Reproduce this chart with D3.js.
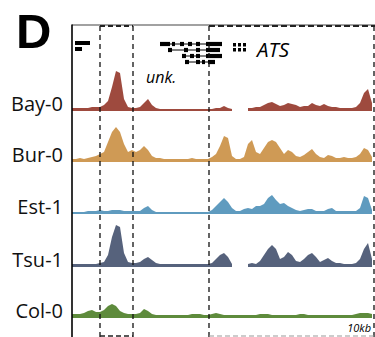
<!DOCTYPE html>
<html><head><meta charset="utf-8">
<script src="https://cdn.jsdelivr.net/npm/d3@7"></script>
<style>body{margin:0;background:#fff}svg{display:block}</style>
</head><body>
<script>
// genomic positions (kb, 0..~30.3 across the panel), sampled every 0.4 kb
const positions = d3.range(0, 76).map(i => i * 0.4);
const trackNames = ["Bay-0", "Bur-0", "Est-1", "Tsu-1", "Col-0"];
const trackColors = ["#9e4a3e", "#cf9a55", "#5f9bbf", "#56627c", "#5e8b3c"];
const bay0 = [3,3,3,3,3,4,4,4,6,10,24,40,38,12,4,3,3,4,8,12,6,3,2,2,2,2,2,2,2,2,2,2,2,2,2,2,3,3,5,3,2,null,null,null,3,3,4,4,6,8,9,7,5,6,8,7,6,4,5,5,8,6,5,7,5,4,4,3,3,3,3,4,8,18,22,8];
const bur0 = [3,3,4,3,4,5,6,8,10,20,30,35,30,18,10,12,10,12,16,12,6,4,4,3,3,3,3,3,3,3,4,3,3,3,3,5,8,16,26,24,6,3,3,5,18,22,10,8,14,20,22,20,14,8,12,10,6,5,7,10,13,8,5,4,7,6,4,4,5,4,4,5,8,14,12,5];
const est1 = [2,2,2,2,3,3,3,4,3,3,4,4,4,3,3,3,3,3,6,8,4,2,2,2,2,2,2,2,2,2,2,2,2,2,2,4,8,12,16,12,6,3,3,5,6,5,8,8,10,16,19,14,10,11,8,6,4,3,4,5,5,3,3,3,5,6,3,3,3,3,3,3,6,18,16,4];
const tsu1 = [3,3,3,3,3,3,3,4,5,12,30,42,40,14,5,4,4,5,8,10,7,4,3,3,3,3,3,3,3,3,3,3,3,3,3,4,8,12,14,10,3,null,null,null,3,4,3,6,12,18,22,18,8,10,15,12,6,5,8,12,14,10,5,7,9,6,4,4,3,3,3,4,8,18,24,8];
const col0 = [4,4,4,5,7,8,6,6,8,12,14,12,7,5,4,4,4,5,9,7,4,3,3,3,3,3,3,3,3,3,4,4,4,3,3,4,5,4,3,3,3,3,3,3,3,3,3,4,4,4,3,3,3,3,3,3,3,4,4,3,3,3,3,3,3,3,3,3,3,3,3,4,5,5,5,4];
const trackValues = [bay0, bur0, est1, tsu1, col0];
const trackBaselines = [111, 162, 214, 267, 318];
// highlighted regions (kb)
const regions = [[2.8, 6.1], [13.7, 30.2]];
// gene models: [start, end] exons in kb per transcript row
const leftGene = [[[0.3, 1.8]], [[0.3, 1.0]]];
const atsTranscripts = [
  [[8.8, 9.8], [10.0, 10.3], [10.8, 11.2], [11.6, 12.0], [12.4, 12.8], [13.4, 15.0]],
  [[9.6, 10.0], [11.2, 11.6], [12.4, 12.8], [13.4, 14.8]],
  [[11.0, 11.4], [11.8, 12.2], [12.4, 12.8], [13.4, 15.0]],
  [[11.3, 11.7], [12.4, 12.8], [13.0, 13.3], [13.6, 14.3]]
];
const atsSmall = [[[16.1, 16.4], [16.6, 16.9], [17.1, 17.4]], [[16.1, 16.4], [16.6, 16.9], [17.1, 17.4]]];

const W = 375, H = 337;
const svg = d3.select("body").append("svg").attr("width", W).attr("height", H);
const x = d3.scaleLinear().domain([0, 30.3]).range([72, 375]);
const h = d3.scaleLinear().domain([0, 45]).range([0, 45]);

svg.append("text").attr("x", 16).attr("y", 48).text("D")
  .attr("font-family", "Liberation Sans, Arial, sans-serif").attr("font-weight", "bold")
  .attr("font-size", 49).attr("fill", "#000");

// tracks
trackNames.forEach((name, k) => {
  const base = trackBaselines[k];
  const vals = trackValues[k];
  const pts = positions.map((p, i) => ({p, v: vals[i]}));
  const area = d3.area().defined(d => d.v != null)
    .x(d => x(d.p)).y0(base).y1(d => base - h(d.v));
  svg.append("path").datum(pts).attr("d", area).attr("fill", trackColors[k]);
  svg.append("text").attr("x", 63).attr("y", base).attr("text-anchor", "end")
    .attr("font-family", "Open Sans, sans-serif").attr("font-size", 20)
    .attr("fill", "#111").text(name);
});

// gene models
function drawGene(rows, y0, dy, thick) {
  rows.forEach((exons, r) => {
    const yy = y0 + r * dy;
    const s = d3.min(exons, e => e[0]), e2 = d3.max(exons, e => e[1]);
    svg.append("line").attr("x1", x(s)).attr("x2", x(e2)).attr("y1", yy).attr("y2", yy)
      .attr("stroke", "#000").attr("stroke-width", 1);
    exons.forEach(e => {
      svg.append("rect").attr("x", x(e[0])).attr("width", x(e[1]) - x(e[0]))
        .attr("y", yy - thick / 2).attr("height", thick).attr("fill", "#000");
    });
  });
}
leftGene.forEach((exons, r) => {
  exons.forEach(e => svg.append("rect").attr("x", x(e[0])).attr("width", x(e[1]) - x(e[0]))
    .attr("y", 41 + r * 6).attr("height", 4).attr("fill", "#000"));
});
drawGene(atsTranscripts, 44, 6, 4.2);
atsSmall.forEach((exons, r) => {
  exons.forEach(e => svg.append("rect").attr("x", x(e[0])).attr("width", x(e[1]) - x(e[0]))
    .attr("y", 43 + r * 5).attr("height", 3.5).attr("fill", "#000"));
});
svg.append("text").attr("x", 257).attr("y", 57).text("ATS")
  .attr("font-family", "Open Sans, sans-serif").attr("font-style", "italic")
  .attr("font-size", 20.5).attr("fill", "#000");
svg.append("text").attr("x", 146).attr("y", 83).text("unk.")
  .attr("font-family", "Open Sans, sans-serif").attr("font-style", "italic")
  .attr("font-size", 16).attr("fill", "#000");

// frame
svg.append("line").attr("x1", 72).attr("x2", 375).attr("y1", 25).attr("y2", 25)
  .attr("stroke", "#444").attr("stroke-width", 1.2);
svg.append("line").attr("x1", 72).attr("x2", 72).attr("y1", 24.5).attr("y2", 337)
  .attr("stroke", "#000").attr("stroke-width", 1.6);

// dashed region boxes
const r1 = regions[0], r2 = regions[1];
[x(r1[0]), x(r1[1]), x(r2[0]), x(r2[1])].forEach(xx => {
  svg.append("line").attr("x1", xx).attr("x2", xx).attr("y1", 26).attr("y2", 337)
    .attr("stroke", "#111").attr("stroke-width", 1.3).attr("stroke-dasharray", "5,4");
});
svg.append("line").attr("x1", x(r1[0])).attr("x2", x(r1[1])).attr("y1", 26).attr("y2", 26)
  .attr("stroke", "#222").attr("stroke-width", 2).attr("stroke-dasharray", "5,3");
svg.append("line").attr("x1", x(r1[0])).attr("x2", x(r1[1])).attr("y1", 336).attr("y2", 336)
  .attr("stroke", "#222").attr("stroke-width", 1.5).attr("stroke-dasharray", "5,3");
svg.append("line").attr("x1", x(r2[0])).attr("x2", 375).attr("y1", 26).attr("y2", 26)
  .attr("stroke", "#222").attr("stroke-width", 2.2).attr("stroke-dasharray", "6,3");
svg.append("line").attr("x1", x(r2[0])).attr("x2", 375).attr("y1", 336).attr("y2", 336)
  .attr("stroke", "#999").attr("stroke-width", 1).attr("stroke-dasharray", "5,3");

svg.append("text").attr("x", 371).attr("y", 332).attr("text-anchor", "end").text("10kb")
  .attr("font-family", "Open Sans, sans-serif").attr("font-style", "italic")
  .attr("font-size", 11).attr("fill", "#000");
</script>
</body></html>
